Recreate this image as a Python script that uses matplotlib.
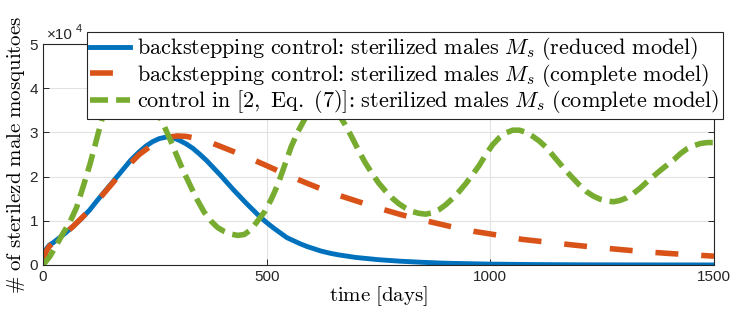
import matplotlib
matplotlib.use("Agg")
import matplotlib.pyplot as plt

plt.rcParams["font.family"] = "Liberation Sans"
plt.rcParams["mathtext.fontset"] = "cm"
plt.rcParams["lines.scale_dashes"] = False

# Sterilized males M_s over time, values in units of 1e4
t_reduced = [0, 4, 8, 14, 22, 45, 67, 85, 104, 122, 141, 160, 178, 196, 215, 230, 245, 260, 278,
             290, 305, 320, 335, 350, 365, 380, 395, 410, 425, 440, 455, 470, 485, 500, 515, 530,
             545, 560, 575, 590, 605, 620, 640, 660, 680, 700, 725, 750, 800, 850, 900, 1000,
             1100, 1200, 1300, 1400, 1500]
ms_reduced = [0, 0.26, 0.37, 0.45, 0.50, 0.68, 0.87, 1.04, 1.24, 1.47, 1.70, 1.93, 2.15, 2.37,
              2.56, 2.69, 2.79, 2.86, 2.90, 2.88, 2.82, 2.74, 2.64, 2.51, 2.37, 2.21, 2.05, 1.88,
              1.71, 1.55, 1.39, 1.24, 1.09, 0.96, 0.84, 0.73, 0.62, 0.55, 0.48, 0.42, 0.37, 0.32,
              0.27, 0.23, 0.20, 0.17, 0.145, 0.12, 0.085, 0.06, 0.04, 0.02, 0.01, 0.005, 0.003,
              0.002, 0.001]

t_complete = [0, 4, 8, 14, 22, 45, 67, 104, 141, 178, 215, 250, 265, 280, 300, 320, 340, 360,
              380, 410, 445, 495, 545, 595, 645, 700, 749, 800, 860, 920, 964, 1020, 1071, 1125,
              1178, 1235, 1290, 1345, 1401, 1450, 1500]
ms_complete = [0, 0.20, 0.32, 0.42, 0.50, 0.68, 0.87, 1.24, 1.68, 2.12, 2.50, 2.76, 2.84, 2.89,
               2.92, 2.91, 2.87, 2.81, 2.75, 2.63, 2.49, 2.27, 2.04, 1.83, 1.63, 1.45, 1.29,
               1.14, 0.99, 0.85, 0.76, 0.67, 0.58, 0.52, 0.46, 0.40, 0.35, 0.30, 0.26, 0.23, 0.20]

t_ref = [0, 15, 30, 45, 60, 75, 90, 105, 120, 135, 150, 165, 180, 195, 210, 225, 240, 255, 271,
         285, 300, 315, 330, 345, 360, 375, 390, 405, 420, 435, 450, 465, 480, 495, 510, 525,
         540, 555, 570, 585, 600, 615, 630, 645, 660, 675, 690, 705, 720, 735, 750, 765, 780,
         795, 810, 825, 840, 855, 870, 885, 900, 915, 930, 945, 960, 975, 990, 1005, 1020, 1035,
         1050, 1065, 1080, 1095, 1110, 1125, 1140, 1155, 1170, 1185, 1200, 1215, 1230, 1245,
         1260, 1275, 1290, 1305, 1320, 1335, 1350, 1365, 1380, 1395, 1410, 1425, 1440, 1455,
         1470, 1485, 1500]
ms_ref = [0, 0.19, 0.45, 0.72, 0.97, 1.30, 1.78, 2.28, 2.85, 3.42, 3.87, 4.18, 4.37, 4.43,
          4.35, 4.13, 3.82, 3.47, 3.14, 2.82, 2.45, 2.10, 1.78, 1.47, 1.20, 1.00, 0.85, 0.76,
          0.70, 0.67, 0.69, 0.80, 1.00, 1.20, 1.48, 1.82, 2.25, 2.68, 3.02, 3.30, 3.50, 3.62,
          3.65, 3.58, 3.42, 3.18, 2.90, 2.60, 2.32, 2.08, 1.86, 1.68, 1.52, 1.39, 1.29, 1.21,
          1.17, 1.15, 1.18, 1.25, 1.36, 1.50, 1.66, 1.84, 2.04, 2.25, 2.50, 2.72, 2.88, 2.99,
          3.05, 3.05, 3.00, 2.91, 2.80, 2.66, 2.48, 2.30, 2.12, 1.96, 1.80, 1.66, 1.56, 1.49,
          1.45, 1.43, 1.46, 1.52, 1.62, 1.74, 1.88, 2.01, 2.14, 2.26, 2.38, 2.52, 2.63, 2.70,
          2.75, 2.77, 2.77]

labels = [
    r"$\mathrm{backstepping\ control}$:$\mathrm{\ sterilized\ males\ }M_s\mathrm{\ (reduced\ model)}$",
    r"$\mathrm{backstepping\ control}$:$\mathrm{\ sterilized\ males\ }M_s\mathrm{\ (complete\ model)}$",
    r"$\mathrm{control\ in\ [2,\ Eq.\ (7)]}$:$\mathrm{\ sterilized\ males\ }M_s\mathrm{\ (complete\ model)}$",
]

fig = plt.figure(figsize=(7.31, 3.19), dpi=100)
ax = fig.add_axes([43 / 731, 1 - 265 / 319, (714 - 43) / 731, (265 - 44) / 319])

ax.plot(t_reduced, ms_reduced, color="#0072BD", linewidth=3.5, label=labels[0])
ax.plot(t_complete, ms_complete, color="#D95319", linewidth=4, dashes=(16.5, 16.5), label=labels[1])
ax.plot(t_ref, ms_ref, color="#77AC30", linewidth=4, dashes=(13, 5.8), label=labels[2])

ax.set_xlim(0, 1500)
ax.set_ylim(0, 5)
ax.set_xticks([0, 500, 1000, 1500])
ax.set_yticks([0, 1, 2, 3, 4, 5])
ax.grid(True, color="#e2e2e2", linewidth=0.8)
ax.set_axisbelow(True)
ax.tick_params(direction="in", length=4, width=0.7, colors="#262626", labelsize=11,
               top=True, right=True)
for s in ax.spines.values():
    s.set_color("#262626")
    s.set_linewidth(0.8)

ax.set_xlabel(r"$\mathrm{time\ [days]}$", fontsize=15, labelpad=0)
ax.set_ylabel(r"$\mathrm{\#\ of\ sterilezd\ male\ mosquitoes}$", fontsize=15, labelpad=2)

# exponent label like MATLAB
ax.text(0.006, 1.009, "×10", transform=ax.transAxes, fontsize=11, color="#262626",
        ha="left", va="bottom")
ax.text(0.049, 1.045, "4", transform=ax.transAxes, fontsize=8, color="#262626",
        ha="left", va="bottom")

leg = ax.legend(loc="upper left", bbox_to_anchor=(87 / 731, 1 - 32 / 319),
                bbox_transform=fig.transFigure, borderaxespad=0, fancybox=False,
                framealpha=1, edgecolor="#262626",
                prop={"family": "Liberation Serif", "size": 16}, handlelength=1.8,
                handletextpad=0.3, labelspacing=-0.02, borderpad=0.15)
leg.get_frame().set_linewidth(0.8)
leg.set_zorder(5)

fig.savefig("out.png", dpi=100)
